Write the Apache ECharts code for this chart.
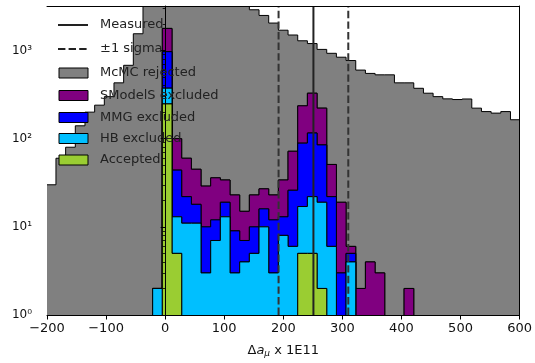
<!DOCTYPE html>
<html>
<head>
<meta charset="utf-8">
<script src="https://cdn.jsdelivr.net/npm/echarts@6/dist/echarts.min.js"></script>
<style>
  html, body { margin: 0; padding: 0; background: #ffffff; }
  #chart { width: 535px; height: 363px; }
</style>
</head>
<body>
<div id="chart"></div>
<script>
// Histogram binning (uniform bins)
const BIN_START = -201.2;
const BIN_WIDTH = 16.37;

// Counts per bin for each class (49 bins)
const ACCEPTED = [0,0,0,0,0,0,0,0,0,0, 0,0,248,5,0,0,0,0,0,0, 0,0,0,0,0,0,5,5,2,0, 0,0,0,0,0,0,0,0,0,0, 0,0,0,0,0,0,0,0,0];
const HB_EXCLUDED = [0,0,0,0,0,0,0,0,0,0, 0,2,126,8,11,11,3,7,13,3, 4,5,10,3,8,6,12,17,17,6, 0,4,0,0,0,0,0,0,0,0, 0,0,0,0,0,0,0,0,0];
const MMG_EXCLUDED = [0,0,0,0,0,0,0,0,0,0, 0,0,596,31,11,7,7,5,6,6, 3,5,6,9,5,20,72,94,66,16, 3,1,0,0,0,0,0,0,0,0, 0,0,0,0,0,0,0,0,0];
const SMODELS_EXCLUDED = [0,0,0,0,0,0,0,0,0,0, 0,0,812,56,38,27,19,24,15,14, 8,13,11,11,21,46,147,212,137,29, 16,1,2,4,3,0,0,2,0,0, 0,0,0,0,0,0,0,0,0];
const MCMC_REJECTED = [30,60,80,140,200,240,300,430,680,1550, 3600,4300,3000,5100,5340,5450,5270,4860,4270,3780, 3390,2877,2473,2027,1666,1428,1054,872,808,879, 821,764,598,546,527,530,430,428,373,328, 300,283,278,282,222,203,195,203,164];

// Reference lines
const MEASURED = 251;
const SIGMA = 59;

// Axis ticks
const Y_TICKS = [1, 10, 100, 1000];
const Y_MINOR_TICKS = [2,3,4,5,6,7,8,9, 20,30,40,50,60,70,80,90, 200,300,400,500,600,700,800,900, 2000,3000];
const X_MIN = -200, X_MAX = 600, X_STEP = 100;
const Y_MIN = 1, Y_MAX = 3200;

const LAYERS = [
  { name: 'Accepted',         counts: ACCEPTED,         color: '#9acd32' },
  { name: 'HB excluded',      counts: HB_EXCLUDED,      color: '#00bfff' },
  { name: 'MMG excluded',     counts: MMG_EXCLUDED,     color: '#0000ff' },
  { name: 'SModelS excluded', counts: SMODELS_EXCLUDED, color: '#800080' },
  { name: 'McMC rejected',    counts: MCMC_REJECTED,    color: '#808080' }
];

const nBins = ACCEPTED.length;
const edges = [];
for (let i = 0; i <= nBins; i++) edges.push(BIN_START + i * BIN_WIDTH);

// cumulative stack boundaries: cum[0] = zeros, cum[k+1] = cum[k] + layer k
const cum = [new Array(nBins).fill(0)];
LAYERS.forEach((layer, k) => {
  cum.push(cum[k].map((v, i) => v + layer.counts[i]));
});

// draw order: top of the stack first, bottom layer last
const drawOrder = LAYERS.map((_, k) => LAYERS.length - 1 - k);

function logSafe(v) { return v > 0 ? v : 0.2; }

// one step-shaped band per class, between its stack bottom and top
function renderLayer(params, api) {
  const k = drawOrder[params.dataIndex];
  const lower = cum[k], upper = cum[k + 1];
  const pts = [];
  for (let i = 0; i < nBins; i++) {
    pts.push(api.coord([edges[i], logSafe(upper[i])]));
    pts.push(api.coord([edges[i + 1], logSafe(upper[i])]));
  }
  for (let i = nBins - 1; i >= 0; i--) {
    pts.push(api.coord([edges[i + 1], logSafe(lower[i])]));
    pts.push(api.coord([edges[i], logSafe(lower[i])]));
  }
  return {
    type: 'polygon',
    shape: { points: pts },
    style: { fill: LAYERS[k].color, stroke: '#000000', lineWidth: 1 }
  };
}

const FONT = 'DejaVu Sans';
const SUP = ['\u2070', '\u00b9', '\u00b2', '\u00b3'];

const chart = echarts.init(document.getElementById('chart'), null, { renderer: 'canvas' });

const axisBlack = { lineStyle: { color: '#000', width: 1 } };

// legend drawn as graphic elements
const legendX = 58, legendTextX = 100;
const legendRows = [25, 49, 73, 95.5, 117.5, 138.5, 160];
const legendGraphics = [];
legendGraphics.push({ type: 'line', shape: { x1: legendX, y1: legendRows[0], x2: legendX + 30, y2: legendRows[0] }, style: { stroke: '#222', lineWidth: 2 } });
legendGraphics.push({ type: 'line', shape: { x1: legendX, y1: legendRows[1], x2: legendX + 30, y2: legendRows[1] }, style: { stroke: '#222', lineWidth: 2, lineDash: [7.4, 3.2] } });
const legendTexts = ['Measured', '\u00b11 sigma'];
const patchLayers = [4, 3, 2, 1, 0];
patchLayers.forEach((k, j) => {
  legendGraphics.push({ type: 'rect', shape: { x: legendX + 1, y: legendRows[j + 2] - 5, width: 29, height: 10 }, style: { fill: LAYERS[k].color, stroke: '#000', lineWidth: 1 } });
  legendTexts.push(LAYERS[k].name);
});
legendTexts.forEach((t, j) => {
  legendGraphics.push({ type: 'text', x: legendTextX, y: legendRows[j], style: { text: t, font: '13px "DejaVu Sans"', fill: '#222', verticalAlign: 'middle', align: 'left' } });
});
legendGraphics.forEach(g => { g.z = 100; });

const option = {
  animation: false,
  backgroundColor: '#ffffff',
  grid: { left: 47, right: 12, top: 6, bottom: 47, containLabel: false },
  xAxis: [
    {
      type: 'value', min: X_MIN, max: X_MAX, interval: X_STEP, z: 10,
      axisLine: axisBlack,
      axisTick: { show: true, length: 4.5, lineStyle: { color: '#000', width: 1 } },
      axisLabel: {
        margin: 7, color: '#111', fontFamily: FONT, fontSize: 13,
        formatter: v => String(v).replace('-', '\u2212')
      },
      splitLine: { show: false },
      name: '{d|\u0394}{i|a}{sub|\u03bc}{n| x 1E11}',
      nameLocation: 'middle', nameGap: 28,
      nameTextStyle: {
        color: '#111', fontFamily: FONT, fontSize: 13,
        rich: {
          d: { fontFamily: FONT, fontSize: 13, color: '#111' },
          i: { fontFamily: FONT, fontSize: 13, fontStyle: 'italic', color: '#111' },
          sub: { fontFamily: FONT, fontSize: 9, fontStyle: 'italic', color: '#111', padding: [6, 0, 0, 0] },
          n: { fontFamily: FONT, fontSize: 13, color: '#111' }
        }
      }
    },
    {
      type: 'value', position: 'top', min: X_MIN, max: X_MAX, z: 10,
      axisLine: axisBlack, axisTick: { show: false }, axisLabel: { show: false }, splitLine: { show: false }
    }
  ],
  yAxis: [
    {
      type: 'log', logBase: 10, min: Y_MIN, max: Y_MAX, z: 10,
      axisLine: axisBlack,
      axisTick: { show: true, length: 4.5, customValues: Y_TICKS, lineStyle: { color: '#000', width: 1 } },
      axisLabel: {
        margin: 15, color: '#111', fontFamily: FONT, fontSize: 12, customValues: Y_TICKS,
        formatter: v => '10' + SUP[Math.round(Math.log10(v))]
      },
      splitLine: { show: false }
    },
    {
      type: 'log', logBase: 10, min: Y_MIN, max: Y_MAX, position: 'left', z: 10,
      axisLine: { show: false },
      axisTick: { show: true, length: 2.5, customValues: Y_MINOR_TICKS, lineStyle: { color: '#000', width: 0.8 } },
      axisLabel: { show: false },
      splitLine: { show: false }
    },
    {
      type: 'log', logBase: 10, min: Y_MIN, max: Y_MAX, position: 'right', z: 10,
      axisLine: axisBlack, axisTick: { show: false }, axisLabel: { show: false }, splitLine: { show: false }
    }
  ],
  series: [
    {
      type: 'custom', name: 'stack', clip: true, z: 2,
      xAxisIndex: 0, yAxisIndex: 0,
      renderItem: renderLayer,
      data: drawOrder.map(() => [0, 1])
    },
    {
      type: 'line', name: 'Measured', xAxisIndex: 0, yAxisIndex: 0, z: 5,
      symbol: 'none', silent: true,
      lineStyle: { color: '#222', width: 2 },
      data: [[MEASURED, Y_MIN], [MEASURED, Y_MAX]]
    },
    {
      type: 'line', name: 'lower sigma', xAxisIndex: 0, yAxisIndex: 0, z: 5,
      symbol: 'none', silent: true,
      lineStyle: { color: '#333', width: 2, type: [7.4, 3.2] },
      data: [[MEASURED - SIGMA, Y_MIN], [MEASURED - SIGMA, Y_MAX]]
    },
    {
      type: 'line', name: 'upper sigma', xAxisIndex: 0, yAxisIndex: 0, z: 5,
      symbol: 'none', silent: true,
      lineStyle: { color: '#333', width: 2, type: [7.4, 3.2] },
      data: [[MEASURED + SIGMA, Y_MIN], [MEASURED + SIGMA, Y_MAX]]
    }
  ],
  graphic: legendGraphics
};

chart.setOption(option);
</script>
</body>
</html>
